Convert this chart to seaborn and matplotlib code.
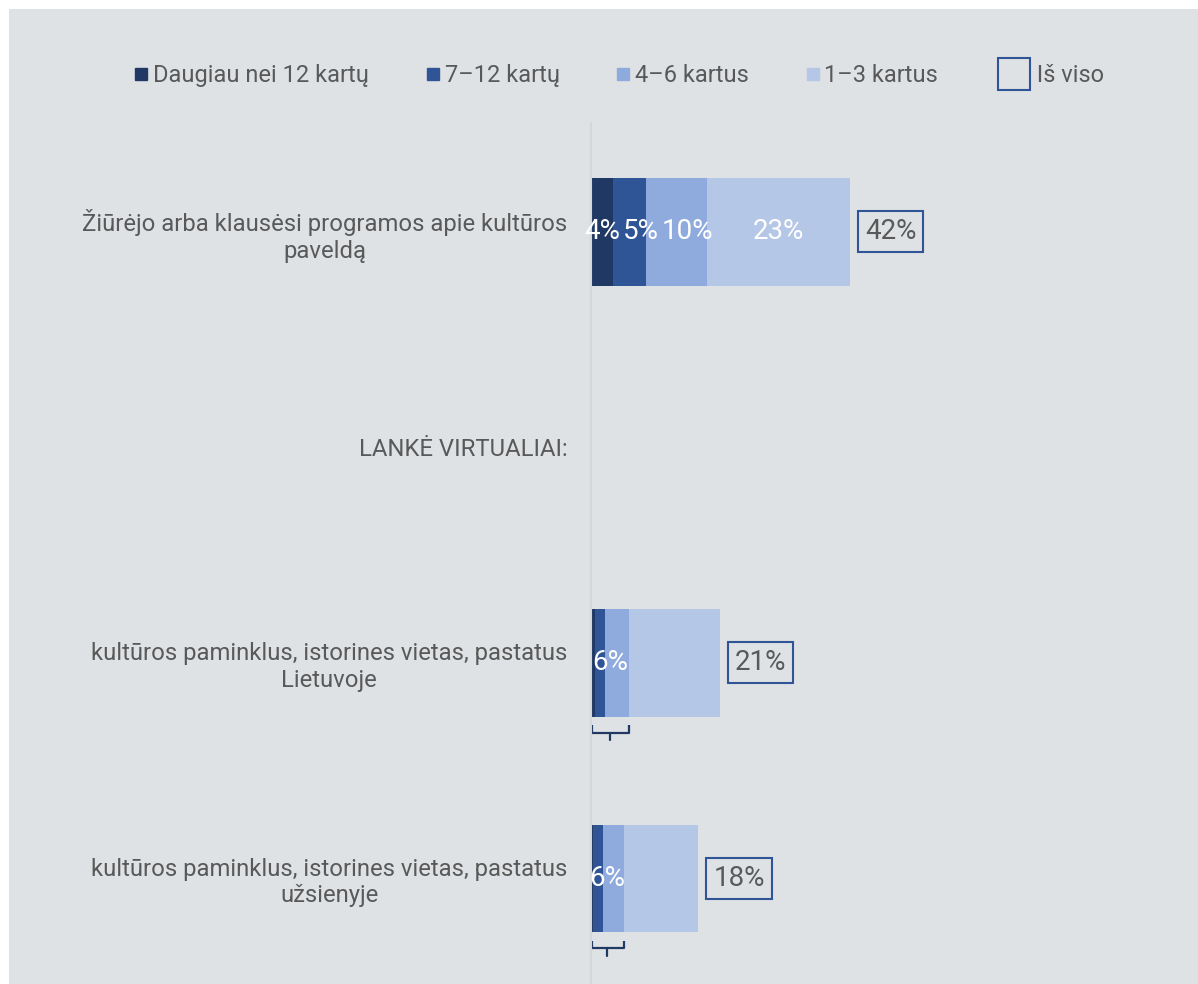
import numpy as np
import matplotlib
matplotlib.use("Agg")
import matplotlib.pyplot as plt
import seaborn as sns
from matplotlib.lines import Line2D
from matplotlib.patches import Rectangle
from matplotlib.transforms import offset_copy

# -----------------------------
# Data
# -----------------------------
categories = [
    "Žiūrėjo arba klausėsi programos apie kultūros\npaveldą",
    "LANKĖ VIRTUALIAI:",
    "kultūros paminklus, istorines vietas, pastatus\nLietuvoje",
    "kultūros paminklus, istorines vietas, pastatus\nužsienyje",
]
series_names = ["Daugiau nei 12 kartų", "7–12 kartų", "4–6 kartus", "1–3 kartus"]
more_12 = [3.6, 0, 0.7, 0.4]
times_7_12 = [5.4, 0, 1.5, 1.5]
times_4_6 = [9.9, 0, 3.9, 3.4]
times_1_3 = [23.1, 0, 14.8, 12.1]
total_labels = ["42%", "", "21%", "18%"]
# segment labels for the first row, and grouped (first three) labels for rows 3-4
row1_labels = ["4%", "5%", "10%", "23%"]
grouped_labels = ["", "", "6%", "6%"]

colors = ["#203864", "#2f5597", "#8faadc", "#b4c7e7"]
bg = "#dfe2e5"
text_col = "#595959"

# -----------------------------
# Figure
# -----------------------------
sns.set_theme(style="white")
plt.rcParams["font.family"] = ["Roboto", "DejaVu Sans"]

fig = plt.figure(figsize=(11.98, 9.84), dpi=100)
fig.patch.set_facecolor("white")
fig.patches.append(Rectangle((9 / 1198, 0), 1, 1 - 9 / 984, transform=fig.transFigure,
                             facecolor=bg, edgecolor="none", zorder=-10))
ax = fig.add_axes([591 / 1198, 0, 1 - 591 / 1198, 1 - 123 / 984])
ax.patch.set_visible(False)

series = [more_12, times_7_12, times_4_6, times_1_3]
cum = np.cumsum(np.array(series), axis=0)

# draw stacked bars from the outermost cumulative value inwards
for i in range(len(series) - 1, -1, -1):
    sns.barplot(x=cum[i], y=categories, color=colors[i], width=0.5,
                orient="h", ax=ax, saturation=1, linewidth=0)

ax.set_xlim(0, 98.6)
ax.set_ylim(3.49, -0.505)

# segment labels on first row (pushed right when they would collide)
starts = np.vstack([np.zeros(len(categories)), cum[:-1]])
renderer = fig.canvas.get_renderer()
prev_right = None
for i, lab in enumerate(row1_labels):
    mid = (starts[i, 0] + cum[i, 0]) / 2
    t = ax.text(mid, 0, lab, color="white", fontsize=20, ha="center", va="center")
    bb = t.get_window_extent(renderer)
    if prev_right is not None and bb.x0 < prev_right + 3:
        shift = prev_right + 3 - bb.x0
        t.set_transform(offset_copy(ax.transData, fig=fig, x=shift, units="dots"))
        bb = t.get_window_extent(renderer)
    prev_right = bb.x1

# grouped labels and brackets on rows 3-4
for r, lab in enumerate(grouped_labels):
    if not lab:
        continue
    end = cum[2, r]
    ax.text(end / 2, r, lab, color="white", fontsize=20, ha="center", va="center")
    ax.plot([0.15, 0.15, end, end], [r + 0.29, r + 0.325, r + 0.325, r + 0.29],
            color=colors[0], lw=1.6, solid_capstyle="butt", clip_on=False)
    ax.plot([end / 2, end / 2], [r + 0.325, r + 0.36], color=colors[0], lw=1.6,
            clip_on=False)

# total boxes
for r, lab in enumerate(total_labels):
    if not lab:
        continue
    ax.annotate(lab, xy=(cum[3, r], r), xytext=(11, 0), textcoords="offset points",
                ha="left", va="center", fontsize=20, color=text_col,
                bbox=dict(boxstyle="square,pad=0.25", facecolor="none",
                          edgecolor=colors[1], lw=1.5))

# axes styling
for s in ["top", "right", "bottom"]:
    ax.spines[s].set_visible(False)
ax.spines["left"].set_color("#d3d7db")
ax.spines["left"].set_linewidth(1.5)
ax.set_xticks([])
ax.set_xlabel("")
ax.set_ylabel("")
ax.tick_params(axis="y", length=0, pad=17, labelsize=17.2, labelcolor=text_col)
for t in ax.get_yticklabels():
    t.set_multialignment("center")

# legend
handles = [Line2D([], [], marker="s", linestyle="none", markersize=9,
                  markerfacecolor=c, markeredgecolor=c) for c in colors]
handles.append(Line2D([], [], marker="s", linestyle="none", markersize=23,
                      markerfacecolor="none", markeredgecolor=colors[1], markeredgewidth=1.5))
labels = series_names[:-1] + [series_names[-1] + "  ", "  Iš viso"]
fig.legend(handles, labels, loc="center", bbox_to_anchor=(0.516, 0.923), ncol=5,
           frameon=False, fontsize=17, labelcolor=text_col, handletextpad=0.1,
           columnspacing=2.3, handlelength=0.8)

fig.savefig("out.png", dpi=100, facecolor=fig.get_facecolor())
